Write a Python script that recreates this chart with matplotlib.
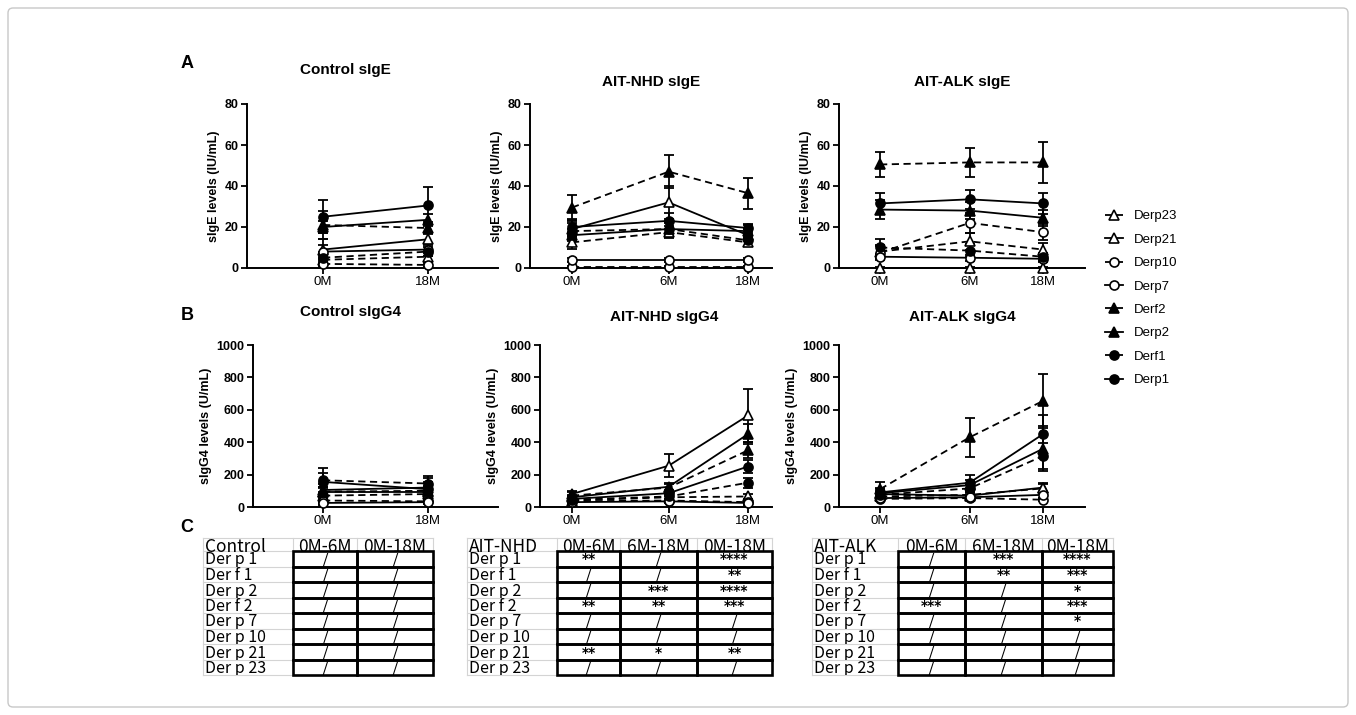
import numpy as np
import matplotlib.pyplot as plt
from matplotlib.lines import Line2D
from matplotlib.patches import Rectangle, FancyBboxPatch
from matplotlib.transforms import Bbox, TransformedBbox

# ---- data ----
series = ["Derp23", "Derp21", "Derp10", "Derp7", "Derf2", "Derp2", "Derf1", "Derp1"]

ctrl_times = ["0M", "18M"]
ait_times = ["0M", "6M", "18M"]

# sIgE (IU/mL), one row per series
ctrl_ige = [[4, 5.5], [9, 14], [2, 1.5], [8, 9], [21, 19.5], [20, 23.5], [5, 8], [25, 30.5]]
ctrl_ige_err = [[2, 2], [5, 3], [1, 1], [3, 3], [7, 3], [3, 3], [3, 2], [8, 9]]

nhd_ige = [[12.5, 17.5, 12.5], [19, 32, 16], [0.5, 0.5, 0.5], [4, 4, 4],
           [29.5, 47, 36.5], [16, 19, 18], [18, 19, 13.5], [20, 23, 19.5]]
nhd_ige_err = [[3, 3, 2], [4, 8, 3], [0.5, 0.5, 0.5], [1, 1, 1],
               [6, 8, 7.5], [3, 3, 3], [4, 4, 3], [4, 4, 2]]

alk_ige = [[8, 13, 9], [0, 0, 0], [7.5, 22, 17.5], [5.5, 5, 4.5],
           [50.5, 51.5, 51.5], [28.5, 28, 24.5], [10, 8.5, 5.5], [31.5, 33.5, 31.5]]
alk_ige_err = [[3, 4, 3], [0.5, 0.5, 0.5], [3, 5, 4], [1.5, 1.5, 1.5],
               [6, 7, 10], [4.5, 4, 4], [4, 3, 2], [5, 4.5, 5]]

# sIgG4 (U/mL)
ctrl_igg4 = [[70, 80], [95, 95], [40, 35], [25, 30], [95, 100], [105, 120], [165, 145], [155, 110]]
ctrl_igg4_err = [[25, 20], [30, 30], [15, 10], [10, 10], [30, 30], [35, 35], [45, 45], [85, 70]]

nhd_igg4 = [[40, 60, 65], [80, 255, 565], [35, 40, 30], [30, 35, 25],
            [70, 120, 350], [60, 125, 450], [45, 65, 150], [50, 85, 250]]
nhd_igg4_err = [[10, 15, 15], [20, 70, 165], [10, 10, 10], [10, 10, 10],
                [20, 25, 50], [15, 25, 60], [15, 15, 30], [15, 20, 40]]

alk_igg4 = [[65, 75, 115], [80, 70, 120], [50, 55, 45], [55, 60, 75],
            [110, 430, 655], [85, 135, 360], [75, 115, 315], [90, 150, 450]]
alk_igg4_err = [[15, 15, 25], [20, 15, 30], [10, 10, 10], [10, 10, 20],
                [45, 120, 165], [25, 30, 140], [20, 25, 80], [25, 45, 120]]

ige_ticks = [0, 20, 40, 60, 80]
igg4_ticks = [0, 200, 400, 600, 800, 1000]

# significance tables
table_rows = ["Der p 1", "Der f 1", "Der p 2", "Der f 2", "Der p 7", "Der p 10", "Der p 21", "Der p 23"]
ctrl_cols = ["0M-6M", "0M-18M"]
ait_cols = ["0M-6M", "6M-18M", "0M-18M"]
ctrl_sig = [["/", "/"]] * 8
nhd_sig = [["**", "/", "****"], ["/", "/", "**"], ["/", "***", "****"], ["**", "**", "***"],
           ["/", "/", "/"], ["/", "/", "/"], ["**", "*", "**"], ["/", "/", "/"]]
alk_sig = [["/", "***", "****"], ["/", "**", "***"], ["/", "/", "*"], ["***", "/", "***"],
           ["/", "/", "*"], ["/", "/", "/"], ["/", "/", "/"], ["/", "/", "/"]]

# ---- styles ----
line_styles = ["--", "-", "--", "-", "--", "-", "--", "-"]
markers = ["^", "^", "o", "o", "^", "^", "o", "o"]
filled = [False, False, False, False, True, True, True, True]

W, H = 1356, 715
plt.rcParams["font.family"] = ["Liberation Sans", "DejaVu Sans"]
fig = plt.figure(figsize=(W / 100, H / 100), dpi=100)

bg = fig.add_axes([0, 0, 1, 1])
bg.set_xlim(0, W)
bg.set_ylim(0, H)
bg.axis("off")


def Y(p):
    return H - p


def px_axes(left, right, top, bottom):
    return fig.add_axes([left / W, 1 - bottom / H, (right - left) / W, (bottom - top) / H])


def style_kw(i):
    ls = (0, (4, 2.5)) if line_styles[i] == "--" else "-"
    return dict(linestyle=ls, color="black", lw=1.3, marker=markers[i], ms=6.5,
                mfc="black" if filled[i] else "white", mec="black", mew=1.2)


def draw_panel(ax, xpos, labels, means, errs, yticks, ylabel, xlim):
    for i, name in enumerate(series):
        ax.errorbar(xpos, means[i], yerr=errs[i], fmt="none", ecolor="black",
                    elinewidth=1.3, capsize=3.5, capthick=1.3, zorder=2)
        ax.plot(xpos, means[i], clip_on=False, zorder=3, label=name, **style_kw(i))
    ax.set_xlim(*xlim)
    ax.set_ylim(yticks[0], yticks[-1])
    ax.set_yticks(yticks)
    ax.set_xticks(xpos)
    ax.set_xticklabels(labels, fontsize=9.5)
    for lab in ax.get_yticklabels():
        lab.set_fontweight("bold")
        lab.set_fontsize(9)
    ax.set_ylabel(ylabel, fontsize=9, fontweight="bold", labelpad=3)
    for s in ["top", "right"]:
        ax.spines[s].set_visible(False)
    for s in ["left", "bottom"]:
        ax.spines[s].set_linewidth(1.4)
    ax.tick_params(direction="out", length=4, width=1.3, pad=2)
    ax.patch.set_alpha(0)


x2 = [0, 1]
x3 = [0, 1, 1.82]

ax = px_axes(247, 498, 104, 268)
draw_panel(ax, x2, ctrl_times, ctrl_ige, ctrl_ige_err, ige_ticks, "sIgE levels (IU/mL)", (-0.724, 1.667))
ax = px_axes(530, 772, 104, 268)
draw_panel(ax, x3, ait_times, nhd_ige, nhd_ige_err, ige_ticks, "sIgE levels (IU/mL)", (-0.434, 2.068))
ax = px_axes(839, 1085, 104, 268)
draw_panel(ax, x3, ait_times, alk_ige, alk_ige_err, ige_ticks, "sIgE levels (IU/mL)", (-0.458, 2.288))

ax = px_axes(253, 498, 345, 507)
draw_panel(ax, x2, ctrl_times, ctrl_igg4, ctrl_igg4_err, igg4_ticks, "sIgG4 levels (U/mL)", (-0.667, 1.667))
ax = px_axes(540, 772, 345, 507)
draw_panel(ax, x3, ait_times, nhd_igg4, nhd_igg4_err, igg4_ticks, "sIgG4 levels (U/mL)", (-0.33, 2.068))
ax = px_axes(839, 1085, 345, 507)
draw_panel(ax, x3, ait_times, alk_igg4, alk_igg4_err, igg4_ticks, "sIgG4 levels (U/mL)", (-0.458, 2.288))

# titles and panel letters
titles = [("Control sIgE", 345, 70), ("AIT-NHD sIgE", 651, 82), ("AIT-ALK sIgE", 962, 82),
          ("Control sIgG4", 350, 312), ("AIT-NHD sIgG4", 664, 317), ("AIT-ALK sIgG4", 962, 317)]
for txt, xc, yc in titles:
    bg.text(xc, Y(yc), txt, ha="center", va="center", fontsize=11, fontweight="bold")
for txt, yc in [("A", 63), ("B", 316), ("C", 527)]:
    bg.text(187, Y(yc), txt, ha="center", va="center", fontsize=13, fontweight="bold")

# legend
handles = [Line2D([], [], **style_kw(i)) for i in range(len(series))]
fig.legend(handles, series, loc="upper left", bbox_to_anchor=(1105 / W, 1 - 210 / H),
           frameon=False, fontsize=9.5, handlelength=1.4, handletextpad=0.8,
           labelspacing=0.85, borderpad=0, borderaxespad=0)

# tables
tfont = ["Noto Sans CJK SC", "DejaVu Sans"]
row_h = 15.5
head_top, head_bot = 538, 551


def clipped_text(x, y, s, x0, x1, top, bot, family=tfont, va="baseline", **kw):
    t = bg.text(x, Y(y), s, family=family, va=va, **kw)
    t.set_clip_box(TransformedBbox(Bbox.from_extents(x0, Y(bot), x1, Y(top)), bg.transData))
    t.set_clip_on(True)


def draw_table(x_edges, header, cols, cells):
    y_edges = [head_top, head_bot] + [head_bot + row_h * (i + 1) for i in range(len(table_rows))]
    for yy in y_edges:
        bg.plot([x_edges[0], x_edges[-1]], [Y(yy), Y(yy)], color="#d4d4d4", lw=0.8)
    for xx in x_edges:
        bg.plot([xx, xx], [Y(y_edges[0]), Y(y_edges[-1])], color="#d4d4d4", lw=0.8)
    clipped_text(x_edges[0] + 2, head_bot + 1, header, x_edges[0], x_edges[1], head_top, head_bot + 1,
                 fontsize=12.5, ha="left")
    for c, name in enumerate(cols):
        xc = (x_edges[c + 1] + x_edges[c + 2]) / 2
        clipped_text(xc, head_bot + 1, name, x_edges[c + 1], x_edges[c + 2], head_top, head_bot + 1,
                     fontsize=12.5, ha="center")
    for r, lab in enumerate(table_rows):
        top, bot = y_edges[r + 1], y_edges[r + 2]
        clipped_text(x_edges[0] + 2, bot - 2, lab, x_edges[0], x_edges[1], top, bot,
                     fontsize=11.5, ha="left")
        for c in range(len(cols)):
            x0, x1 = x_edges[c + 1], x_edges[c + 2]
            bg.add_patch(Rectangle((x0, Y(bot)), x1 - x0, row_h, fill=False,
                                   ec="black", lw=1.9, zorder=3))
            mark = cells[r][c]
            if mark == "/":
                clipped_text((x0 + x1) / 2, bot - 1, mark, x0, x1, top, bot,
                             fontsize=12, ha="center")
            else:
                clipped_text((x0 + x1) / 2, bot - 3, mark, x0, x1, top, bot,
                             family=["DejaVu Sans"], fontsize=10, fontweight="bold", ha="center")


draw_table([203, 293, 357, 433], "Control", ctrl_cols, ctrl_sig)
draw_table([467, 557, 620, 697, 772], "AIT-NHD", ait_cols, nhd_sig)
draw_table([812, 898, 965, 1042, 1113], "AIT-ALK", ait_cols, alk_sig)

# outer frame
bg.add_patch(FancyBboxPatch((8, Y(707)), 1340, 699, boxstyle="round,pad=0,rounding_size=5",
                            fill=False, ec="#c8c8c8", lw=1))

fig.savefig("out.png", dpi=100)
